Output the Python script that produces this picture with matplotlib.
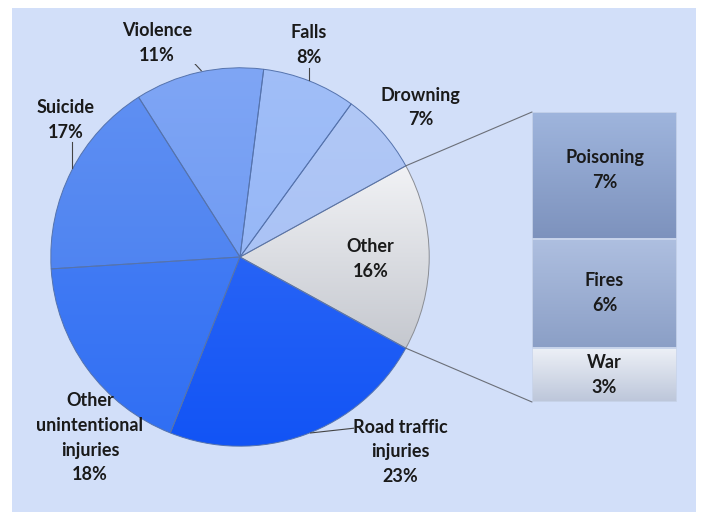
import numpy as np
import matplotlib.pyplot as plt
from matplotlib.colors import to_rgb
from matplotlib.patches import ConnectionPatch, Rectangle

plt.rcParams['font.family'] = ['Lato', 'DejaVu Sans']

# injury deaths by cause (%), "Other" first so it sits on the right
pie_labels = ["Other", "Drowning", "Falls", "Violence", "Suicide",
              "Other\nunintentional\ninjuries", "Road traffic\ninjuries"]
pie_values = [16, 7, 8, 11, 17, 18, 23]
pie_colors = ["#d6dae3", "#a2bdf4", "#8cb0f6", "#6392f2",
              "#3f79f0", "#2f6ef3", "#1254f5"]

# breakdown of "Other" (bottom to top)
bar_labels = ["War", "Fires", "Poisoning"]
bar_values = [3, 6, 7]
bar_tops = ["#eef1f7", "#aebfe0", "#9fb5dd"]
bar_bottoms = ["#bcc6da", "#8b9fc6", "#7d92bd"]

BG = "#d2dff9"
TXT = "#1a1a1a"
FS = 13
LS = 1.55


def vgrad(ax, patch, top, bottom, extent):
    # vertical colour ramp clipped to a patch
    t = np.linspace(0, 1, 256)[:, None, None]
    c0, c1 = np.array(to_rgb(top)), np.array(to_rgb(bottom))
    img = c0 + (c1 - c0) * t
    im = ax.imshow(img, extent=extent, origin="upper", aspect="auto",
                   zorder=patch.get_zorder() + 0.1, interpolation="bilinear")
    im.set_clip_path(patch)


def lighten(c, f):
    c = np.array(to_rgb(c))
    return tuple(c + (1 - c) * f)


W, H = 702, 512
fig = plt.figure(figsize=(W / 100, H / 100), dpi=100, facecolor="white")
fig.patches.append(Rectangle((12 / W, 0), 1 - 18 / W, 1 - 8 / H,
                             transform=fig.transFigure, facecolor=BG,
                             edgecolor="none", zorder=-10))

# pie
cx, cy, r = 240, 257, 193
ax = fig.add_axes([(cx - r) / W, (H - cy - r) / H, 2 * r / W, 2 * r / H])
ax.set_facecolor("none")
start = -pie_values[0] / 100 * 360 / 2
wedges, _ = ax.pie(pie_values, colors=pie_colors, startangle=start,
                   counterclock=True, radius=1,
                   wedgeprops=dict(edgecolor="#5573ad", linewidth=0.7))
for i, (w, c) in enumerate(zip(wedges, pie_colors)):
    w.set_zorder(2)
    if i == 0:
        # grey wedge: near white on top, darker at the bottom
        vgrad(ax, w, "#f2f3f6", "#c4c7ce", (0, 1, -0.5, 0.5))
    else:
        vgrad(ax, w, lighten(c, 0.18), c, (-1, 1, -1, 1))
wedges[0].set_edgecolor("#8a8d94")
for w in wedges:
    w.set_facecolor("none")
    w.set_zorder(3)
ax.set_xlim(-1.02, 1.02)
ax.set_ylim(-1.02, 1.02)
ax.set_aspect("equal")
ax.axis("off")

# label positions in pie data units
label_pos = [(0.69, -0.01), (0.953, 0.79), (0.363, 1.12), (-0.44, 1.13),
             (-0.922, 0.725), (-0.793, -0.955), (0.845, -1.03)]
for lab, val, (x, y) in zip(pie_labels, pie_values, label_pos):
    ax.text(x, y, f"{lab}\n{val}%", ha="center", va="center", fontsize=FS,
            fontweight="bold", color=TXT, linespacing=LS, zorder=5)

# leader lines
lk = dict(color="#444444", lw=0.8, zorder=4)
ax.plot([-0.31, -0.27, -0.205], [1.058, 1.055, 0.985], **lk)
ax.plot([0.363, 0.363], [1.0, 0.935], **lk)
ax.plot([-0.886, -0.886], [0.61, 0.47], **lk)
ax.plot([0.60, 0.373], [-0.905, -0.93], **lk)

# stacked bar for the "Other" slice
bx0, bx1, by0, by1 = 532, 677, 112, 402
bax = fig.add_axes([bx0 / W, (H - by1) / H, (bx1 - bx0) / W, (by1 - by0) / H])
bax.set_facecolor("none")
total = sum(bar_values)
bottom = 0
for lab, val, top, bot in zip(bar_labels, bar_values, bar_tops, bar_bottoms):
    bax.bar(0, val, bottom=bottom, width=1, color="none",
            edgecolor="#c9d5ec", linewidth=1.2, zorder=3)
    bg = bax.bar(0, val, bottom=bottom, width=1, color=bot, zorder=2)[0]
    vgrad(bax, bg, top, bot, (-0.5, 0.5, bottom, bottom + val))
    ty = bottom + val / 2 + (0.3 if lab == "Poisoning" else 0)
    bax.text(0, ty, f"{lab}\n{val}%", ha="center", va="center",
             fontsize=FS, fontweight="bold", color=TXT, linespacing=LS,
             zorder=5)
    bottom += val
bax.set_xlim(-0.5, 0.5)
bax.set_ylim(0, total)
bax.axis("off")

# connectors from the "Other" wedge to the bar
a = np.radians(pie_values[0] / 100 * 360 / 2)
for sgn, yb in ((1, total), (-1, 0)):
    con = ConnectionPatch(xyA=(np.cos(a), sgn * np.sin(a)), coordsA=ax.transData,
                          xyB=(-0.5, yb), coordsB=bax.transData,
                          color="#6b6f78", lw=0.8)
    fig.add_artist(con)

fig.savefig("out.png", dpi=100, facecolor=fig.get_facecolor())
